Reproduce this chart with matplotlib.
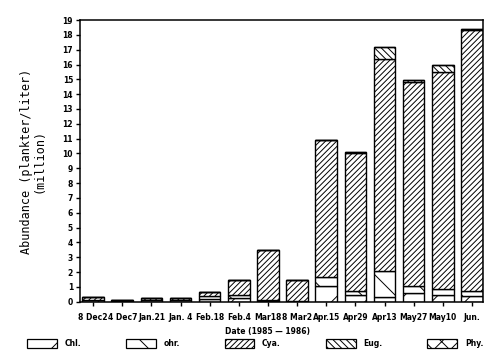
import matplotlib
matplotlib.use("Agg")
import matplotlib.pyplot as plt
from matplotlib.patches import Patch
import numpy as np

# Sampling dates (labels as printed on the chart)
dates = ['8 Dec2', '4 Dec7', 'Jan.21', 'Jan. 4', 'Feb.18', 'Feb.4', 'Mar18',
         '8 Mar2', 'Apr.15', 'Apr29', 'Apr13', 'May27', 'May10', 'Jun.']

# Abundance by group (million plankter/liter)
chl = [0.10, 0.03, 0.10, 0.10, 0.20, 0.25, 0.08, 0.05, 1.05, 0.45, 0.30, 0.60, 0.45, 0.40]
ohr = [0.05, 0.02, 0.05, 0.05, 0.20, 0.20, 0.07, 0.00, 0.60, 0.25, 1.80, 0.45, 0.40, 0.35]
cya = [0.20, 0.05, 0.13, 0.10, 0.25, 1.05, 3.35, 1.45, 9.25, 9.30, 14.30, 13.80, 14.65, 17.55]
eug = [0.00, 0.00, 0.00, 0.00, 0.00, 0.00, 0.00, 0.00, 0.00, 0.10, 0.80, 0.10, 0.50, 0.10]
phy = [0.00, 0.00, 0.00, 0.00, 0.00, 0.00, 0.00, 0.00, 0.00, 0.00, 0.00, 0.00, 0.00, 0.00]

groups = ['Chl.', 'ohr.', 'Cya.', 'Eug.', 'Phy.']
hatches = ['/', '\\', '//////', '\\\\\\\\\\', 'xx']

plt.rcParams['hatch.linewidth'] = 0.7

fig = plt.figure(figsize=(5, 3.64), dpi=100)
ax = fig.add_axes([0.16, 0.171, 0.806, 0.774])

x = np.arange(len(dates))
bottom = np.zeros(len(dates))
for vals, h in zip([chl, ohr, cya, eug, phy], hatches):
    ax.bar(x, vals, 0.74, bottom=bottom, color='white', edgecolor='black',
           hatch=h, linewidth=1.0)
    bottom += np.array(vals)

ax.set_xlim(-0.45, 13.38)
ax.set_ylim(0, 19)
ax.set_yticks(range(0, 20))
ax.set_xticks(x)
ax.set_xticklabels(dates)
ax.tick_params(axis='both', labelsize=5.5, length=3, width=1, pad=2)
for lab in ax.get_xticklabels() + ax.get_yticklabels():
    lab.set_fontweight('bold')
ax.tick_params(axis='x', pad=5)
for s in ax.spines.values():
    s.set_linewidth(1.1)

ax.set_ylabel('Abundance (plankter/liter)\n(million)', family='DejaVu Sans Mono',
              fontsize=8.5, linespacing=1.0, labelpad=12)
fig.text(0.535, 0.078, 'Date (1985 — 1986)', ha='center', va='bottom',
         fontsize=5.5, fontweight='bold')

handles = [Patch(facecolor='white', edgecolor='black', hatch=h, linewidth=0.9)
           for h in hatches]
fig.legend(handles, groups, loc='lower left', bbox_to_anchor=(0.04, 0.025, 0.94, 0.08),
           mode='expand', ncol=5, frameon=False, handlelength=3.9, handleheight=1.3,
           handletextpad=1.0, prop={'size': 5.5, 'weight': 'bold'})

fig.savefig('out.png', dpi=100, facecolor='white')
